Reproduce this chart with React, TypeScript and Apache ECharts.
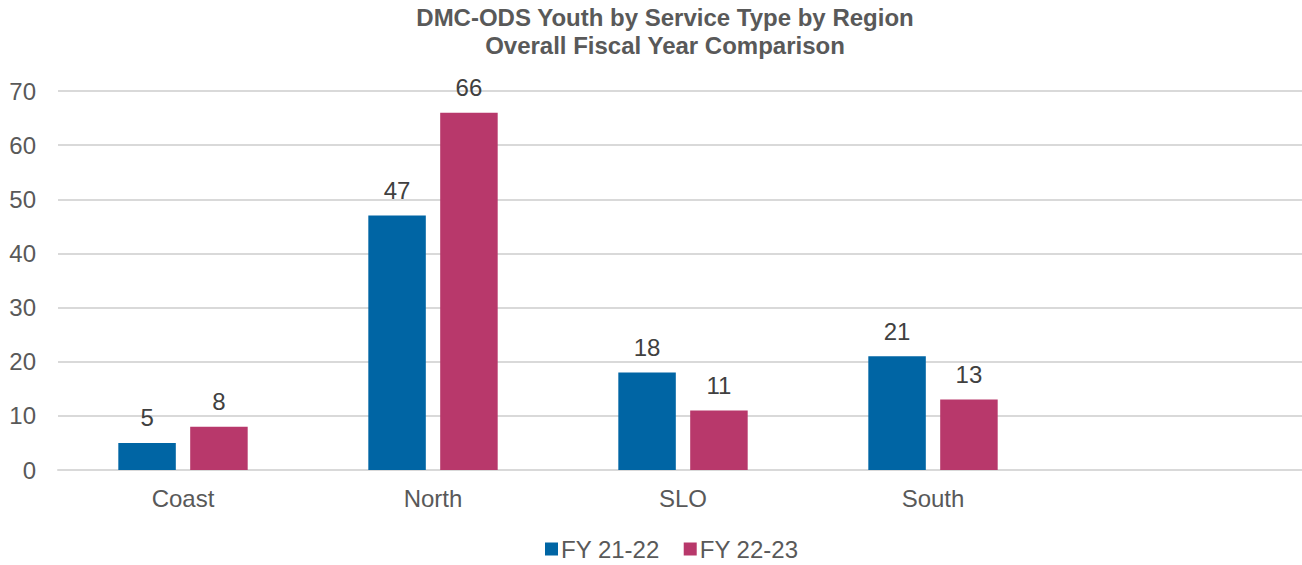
import React, { useEffect, useRef } from "react";
import * as echarts from "echarts";

const titleLines = ["DMC-ODS Youth by Service Type by Region", "Overall Fiscal Year Comparison"];
const categories = ["Coast", "North", "SLO", "South", ""];
const seriesNames = ["FY 21-22", "FY 22-23"];
const fy2122 = [5, 47, 18, 21, null];
const fy2223 = [8, 66, 11, 13, null];
const colors = ["#0065A4", "#B8386B"];

export default function App() {
  const ref = useRef<HTMLDivElement>(null);
  useEffect(() => {
    document.body.style.margin = "0";
    const chart = echarts.init(ref.current!, null, { renderer: "svg" });
    const font = "Arial, 'Liberation Sans', sans-serif";
    const label = {
      show: true,
      position: "top",
      distance: 13,
      color: "#404040",
      fontSize: 24,
      fontFamily: font,
    };
    chart.setOption({
      animation: false,
      title: {
        text: titleLines.join("\n"),
        left: 660,
        textAlign: "center",
        top: -2,
        textStyle: {
          fontSize: 24,
          fontWeight: "bold",
          color: "#595959",
          fontFamily: font,
          lineHeight: 28,
        },
      },
      legend: {
        bottom: -1,
        left: 540,
        itemWidth: 13,
        itemHeight: 13,
        itemGap: 24,
        icon: "rect",
        textStyle: { fontSize: 24, color: "#595959", fontFamily: font, padding: [0, 0, 0, -2] },
        data: seriesNames,
      },
      grid: { left: 58, right: 0, top: 91, bottom: 95, containLabel: false },
      xAxis: {
        type: "category",
        data: categories,
        axisLine: { show: true, lineStyle: { color: "#D9D9D9", width: 2 } },
        axisTick: { show: false },
        axisLabel: { color: "#595959", fontSize: 24, fontFamily: font, margin: 16 },
      },
      yAxis: {
        type: "value",
        min: 0,
        max: 70,
        interval: 10,
        axisLine: { show: false },
        axisTick: { show: false },
        splitLine: { lineStyle: { color: "#D9D9D9", width: 2 } },
        axisLabel: { color: "#595959", fontSize: 24, fontFamily: font, margin: 22 },
      },
      series: [
        {
          name: seriesNames[0],
          type: "bar",
          data: fy2122,
          itemStyle: { color: colors[0] },
          barWidth: "23%",
          barGap: "25%",
          label,
        },
        {
          name: seriesNames[1],
          type: "bar",
          data: fy2223,
          itemStyle: { color: colors[1] },
          barWidth: "23%",
          barGap: "25%",
          label,
        },
      ],
    });
    return () => chart.dispose();
  }, []);
  return (
    <div style={{ width: 1302, height: 565, overflow: "hidden" }}>
      <div ref={ref} style={{ width: 1308, height: 565 }} />
    </div>
  );
}
